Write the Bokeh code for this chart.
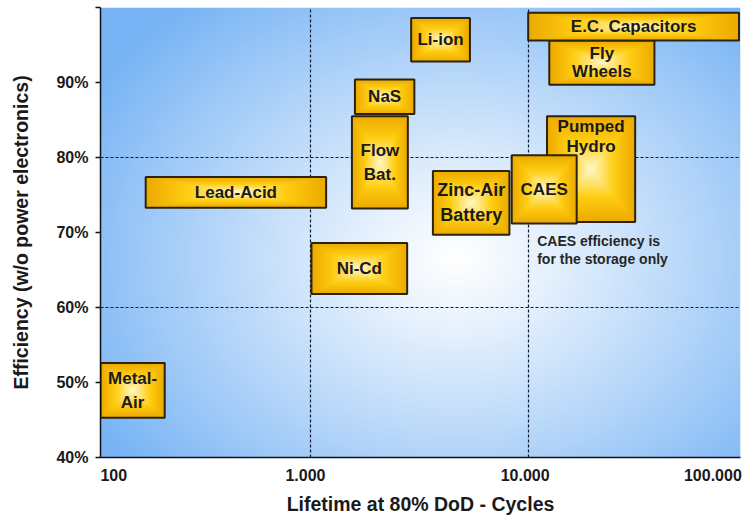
import numpy as np
from bokeh.plotting import figure
from bokeh.models import FixedTicker, Range1d
from bokeh.core.properties import value
from bokeh.embed import file_html
from bokeh.resources import INLINE

# Storage technologies: cycle life at 80% DoD and efficiency (w/o power electronics)
technologies = ["Metal-\nAir", "Lead-Acid", "Ni-Cd", "Flow\nBat.", "NaS", "Li-ion",
                "Zinc-Air\nBattery", "Pumped\nHydro", "CAES", "Fly\nWheels", "E.C. Capacitors"]
life_min = [108.5, 175, 1010, 1550, 1600, 2900, 3650, 12200, 8400, 12500, 10000]
life_max = [214, 1180, 2780, 2800, 3000, 5400, 8200, 31000, 16700, 38000, 93000]
eff_min = [0.453, 0.733, 0.618, 0.732, 0.858, 0.928, 0.697, 0.714, 0.712, 0.897, 0.956]
eff_max = [0.526, 0.774, 0.686, 0.855, 0.904, 0.986, 0.782, 0.855, 0.803, 0.956, 0.993]

caes_note = "CAES efficiency is\nfor the storage only"

x_tick_values = [100, 1000, 10000, 100000]
x_tick_labels = ["100", "1.000", "10.000", "100.000"]
y_tick_values = [0.4, 0.5, 0.6, 0.7, 0.8, 0.9, 1.0]
y_tick_labels = ["40%", "50%", "60%", "70%", "80%", "90%", ""]
x_grid_values = [1000, 10000]
y_grid_values = [0.6, 0.8]

X_RANGE = (108.5, 94450)
Y_RANGE = (0.40, 1.00)
FRAME_W, FRAME_H = 640, 450
FONT = "Liberation Sans"
INK = "#1a1a1a"

p = figure(width=744, height=517, x_axis_type="log",
           x_range=Range1d(*X_RANGE), y_range=Range1d(*Y_RANGE),
           output_backend="svg", toolbar_location=None,
           min_border_left=100, min_border_right=4,
           min_border_top=7, min_border_bottom=60)
p.outline_line_color = None
p.border_fill_color = "white"

# --- radial blue background of the plotting area -------------------------
ny, nx = FRAME_H, FRAME_W
rows, cols = np.mgrid[0:ny, 0:nx]
sy = (ny - 1 - rows).astype(float)          # screen y measured from the top
sx = cols.astype(float)
cx, cy, rx, ry = 355.0, 250.0, 420.0, 330.0
d = np.sqrt(((sx - cx) / rx) ** 2 + ((sy - cy) / ry) ** 2)
t = np.clip(d, 0, 1) ** 1.1
edge = np.array([120, 180, 245], dtype=float)
centre = np.array([255, 255, 255], dtype=float)
rgb = centre[None, None, :] * (1 - t[..., None]) + edge[None, None, :] * t[..., None]
bg = np.empty((ny, nx), dtype=np.uint32)
view = bg.view(dtype=np.uint8).reshape((ny, nx, 4))
view[..., 0] = rgb[..., 0].astype(np.uint8)
view[..., 1] = rgb[..., 1].astype(np.uint8)
view[..., 2] = rgb[..., 2].astype(np.uint8)
view[..., 3] = 255
p.image_rgba(image=[bg], x=X_RANGE[0], y=Y_RANGE[0],
             dw=X_RANGE[1] - X_RANGE[0], dh=Y_RANGE[1] - Y_RANGE[0], level="image")

# --- dashed reference lines ----------------------------------------------
for g, vals in ((p.xgrid, x_grid_values), (p.ygrid, y_grid_values)):
    g.ticker = FixedTicker(ticks=vals)
    g.grid_line_color = "#0f1a33"
    g.grid_line_dash = "3 2"
    g.grid_line_width = 1.2
    g.level = "underlay"


# --- technology boxes with a centre-lit gradient ---------------------------
def box_colors(tt):
    stops = [(0.0, (236, 170, 0)), (0.45, (255, 205, 18)), (1.0, (255, 248, 205))]
    out = []
    for v in tt:
        for (a, ca), (b, cb) in zip(stops[:-1], stops[1:]):
            if a <= v <= b:
                f = (v - a) / (b - a)
                c = [int(round(ca[k] + (cb[k] - ca[k]) * f)) for k in range(3)]
                out.append("#%02x%02x%02x" % tuple(c))
                break
    return out


N_LAYERS = 30
layer_t = np.linspace(0, 1, N_LAYERS, endpoint=False)
layer_colors = box_colors(layer_t)

label_style = {
    "Zinc-Air\nBattery": dict(size="18px", lh=1.25),
    "Flow\nBat.": dict(size="17px", lh=1.25),
    "Metal-\nAir": dict(size="17px", lh=1.25),
    "Fly\nWheels": dict(size="17px", lh=0.95),
    "Pumped\nHydro": dict(size="17px", lh=1.02),
}
top_labelled = {"Pumped\nHydro"}

for name, x0, x1, y0, y1 in zip(technologies, life_min, life_max, eff_min, eff_max):
    lx0, lx1 = np.log10(x0), np.log10(x1)
    lc, hw = (lx0 + lx1) / 2, (lx1 - lx0) / 2
    yc, hh = (y0 + y1) / 2, (y1 - y0) / 2
    shrink = 1 - layer_t
    p.quad(left=10 ** (lc - shrink * hw), right=10 ** (lc + shrink * hw),
           bottom=yc - shrink * hh, top=yc + shrink * hh,
           fill_color=layer_colors, line_color=None)
    p.quad(left=[x0], right=[x1], bottom=[y0], top=[y1],
           fill_color=None, line_color="#2a2310", line_width=2)

    st = label_style.get(name, dict(size="17px", lh=1.2))
    if name in top_labelled:
        p.text(x=[10 ** lc], y=[y1], text=[name], y_offset=1,
               text_align="center", text_baseline="top",
               text_font=value(FONT), text_font_style="bold",
               text_font_size=st["size"], text_color=INK, text_line_height=st["lh"])
    else:
        p.text(x=[10 ** lc], y=[yc], text=[name],
               text_align="center", text_baseline="middle",
               text_font=value(FONT), text_font_style="bold",
               text_font_size=st["size"], text_color=INK, text_line_height=st["lh"])

# note under the CAES box, starting at the 10.000 line
caes_i = technologies.index("CAES")
p.text(x=[x_grid_values[1]], y=[eff_min[caes_i]], text=[caes_note],
       x_offset=9, y_offset=9, text_align="left", text_baseline="top",
       text_font=value(FONT), text_font_style="bold", text_font_size="14px",
       text_color="#262626", text_line_height=1.15)

# --- axes -------------------------------------------------------------------
decade_px = FRAME_W / (np.log10(X_RANGE[1]) - np.log10(X_RANGE[0]))
x_label_nudge_px = [21, -5, -3, -33]
x_label_pos = [float("%.6g" % (v * 10 ** (n / decade_px)))
               for v, n in zip(x_tick_values, x_label_nudge_px)]
p.xaxis.ticker = FixedTicker(ticks=x_label_pos)
p.xaxis.major_label_overrides = {pos: lab for pos, lab in zip(x_label_pos, x_tick_labels)}
p.xaxis.major_tick_out = 0
p.xaxis.major_tick_in = 0
p.xaxis.minor_tick_out = 0
p.xaxis.minor_tick_in = 0
p.xaxis.major_label_standoff = 11
p.xaxis.axis_label = "Lifetime at 80% DoD - Cycles"
p.xaxis.axis_label_standoff = 9

p.yaxis.ticker = FixedTicker(ticks=y_tick_values)
p.yaxis.major_label_overrides = {v: lab for v, lab in zip(y_tick_values, y_tick_labels)}
p.yaxis.major_tick_out = 5
p.yaxis.major_tick_in = 0
p.yaxis.minor_tick_out = 0
p.yaxis.minor_tick_in = 0
p.yaxis.major_label_standoff = 7
p.yaxis.axis_label = "Efficiency (w/o power electronics)"
p.yaxis.axis_label_standoff = 21

for ax in (p.xaxis, p.yaxis):
    ax.axis_line_color = "#111111"
    ax.axis_line_width = 1.5
    ax.major_tick_line_color = "#111111"
    ax.major_tick_line_width = 1.5
    ax.major_label_text_font = FONT
    ax.major_label_text_font_style = "bold"
    ax.major_label_text_font_size = "16px"
    ax.major_label_text_color = INK
    ax.axis_label_text_font = FONT
    ax.axis_label_text_font_style = "bold"
    ax.axis_label_text_font_size = "19.5px"
    ax.axis_label_text_color = INK

open("out.html", "w").write(file_html(p, INLINE))
